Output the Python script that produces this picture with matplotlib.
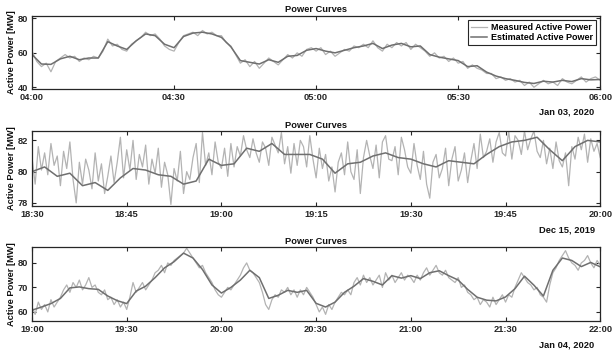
import matplotlib
matplotlib.use("Agg")
import matplotlib.pyplot as plt
import matplotlib.dates as mdates
import numpy as np

plt.rcParams['font.family'] = ['Liberation Sans', 'DejaVu Sans']
plt.rcParams['font.weight'] = 'bold'
plt.rcParams['axes.labelweight'] = 'bold'
plt.rcParams['axes.titleweight'] = 'bold'

TITLE = "Power Curves"
YLABEL = "Active Power [MW]"
LEGEND_LABELS = ["Measured Active Power", "Estimated Active Power"]

# --- Jan 03, 2020, 04:00-06:00 ---
p1_start = "2020-01-03T04:00"
p1_date = "Jan 03, 2020"
p1_meas_step_s = 60
p1_est_step_s = 120
p1_measured = [
    61, 55, 52, 54, 49, 55, 57, 59, 57, 58, 55, 57, 56, 58, 57, 61, 68, 64, 65, 62,
    61, 65, 67, 69, 72, 70, 71, 68, 64, 62, 61, 66, 70, 71, 72, 70, 73, 71, 72, 70,
    70, 66, 64, 59, 54, 56, 52, 55, 51, 54, 57, 55, 53, 56, 59, 57, 60, 58, 62, 63,
    61, 63, 59, 61, 58, 60, 62, 61, 64, 63, 65, 63, 67, 63, 61, 65, 63, 66, 64, 66,
    62, 65, 63, 61, 58, 60, 57, 58, 55, 57, 54, 55, 51, 53, 51, 50, 48, 48, 45, 46,
    44, 45, 43, 44, 41, 43, 40, 42, 44, 42, 43, 41, 45, 43, 42, 44, 46, 43, 45, 46,
    44,
]
p1_estimated = [
    59, 53.5, 53.3, 56.5, 58, 56, 57, 57, 66.5, 64, 62, 67, 71, 70, 65, 63,
    69.5, 71.5, 72, 71, 69, 63.5, 55.5, 54.5, 53.5, 56, 54.5, 58, 58.5, 61.5,
    62.5, 61, 60, 61.5, 63, 64, 65.5, 62.5, 64.5, 65.5, 63.5, 64, 59, 57.5,
    56.5, 55.5, 52, 52.5, 48.8, 46.5, 45, 44, 42.8, 42.2, 43.5, 43, 44, 43.3,
    45, 44.3, 44.5,
]
p1_ylim = (39.0, 81.5)
p1_yticks = [40, 60, 80]
p1_xtick_min = 30

# --- Dec 15, 2019, 18:30-20:00 ---
p2_start = "2019-12-15T18:30"
p2_date = "Dec 15, 2019"
p2_meas_step_s = 30
p2_est_step_s = 120
p2_measured = [
    80.9, 79.2, 81.6, 80.1, 81.2, 79.8, 81.8, 80.4, 81.0, 79.1,
    81.3, 80.2, 81.9, 79.5, 78.0, 80.6, 79.2, 80.8, 80.1, 78.9,
    81.2, 79.4, 80.5, 78.6, 79.7, 81.0, 79.3, 80.6, 82.2, 79.6,
    81.4, 80.1, 82.0, 79.5, 81.1, 80.3, 81.7, 79.2, 80.8, 79.9,
    81.5, 79.0, 80.6, 79.8, 77.9, 80.2, 79.4, 81.3, 78.6, 80.0,
    79.5, 80.9, 81.8, 79.3, 82.5, 80.4, 81.2, 79.8, 81.9, 80.6,
    80.2, 81.5, 79.7, 81.8, 80.3, 81.6, 81.0, 82.3, 81.4, 80.9,
    82.1, 81.2, 80.6, 81.9, 81.5, 80.4, 82.2, 81.7, 81.2, 82.5,
    80.5, 81.6, 79.9, 81.8, 80.4, 82.0, 81.6, 80.3, 82.3, 80.8,
    79.6, 81.5, 80.2, 81.1, 79.4, 80.3, 78.7, 80.6, 81.2, 79.8,
    81.9, 80.0, 79.5, 81.4, 78.6, 80.9, 82.0, 81.0, 80.2, 81.7,
    79.6, 81.9, 82.3, 80.8, 80.7, 81.6, 79.8, 82.2, 81.4, 80.3,
    79.9, 81.8, 80.4, 79.5, 81.3, 79.2, 78.3, 80.6, 81.1, 79.6,
    80.2, 81.5, 79.1, 80.8, 81.6, 79.4, 80.1, 81.2, 79.3, 80.7,
    81.8, 80.2, 82.4, 80.9, 81.3, 82.1, 80.6, 81.9, 82.5, 81.2,
    81.0, 82.6, 80.8, 82.3, 82.0, 81.1, 82.6, 81.4, 82.1, 82.6,
    81.3, 80.9, 82.0, 80.5, 81.5, 80.2, 81.9, 80.7, 80.3, 81.2,
    79.1, 81.6, 80.8, 82.2, 81.4, 82.4, 80.6, 82.1, 81.3, 81.8,
    80.9,
]
p2_estimated = [
    80.0, 80.3, 79.7, 79.9, 79.1, 79.3, 78.8, 79.6, 80.2, 80.1, 79.8, 79.7,
    79.2, 79.4, 80.8, 80.4, 80.5, 81.5, 81.3, 81.8, 81.1, 81.1, 81.1, 80.8,
    79.9, 80.5, 80.6, 81.0, 81.2, 80.9, 80.8, 80.5, 80.3, 80.7, 80.6, 80.5,
    81.1, 81.6, 81.9, 82.0, 82.2, 81.4, 80.7, 81.6, 82.0, 81.9,
]
p2_ylim = (77.8, 82.6)
p2_yticks = [78, 80, 82]
p2_xtick_min = 15

# --- Jan 04, 2020, 19:00-22:00 ---
p3_start = "2020-01-04T19:00"
p3_date = "Jan 04, 2020"
p3_meas_step_s = 60
p3_est_step_s = 180
p3_measured = [
    62, 59, 64, 61, 63, 60, 65, 62, 64, 66, 69, 71, 68, 72, 70, 73, 69, 71, 74, 70,
    71, 68, 67, 69, 65, 66, 63, 65, 62, 64, 61, 66, 72, 68, 70, 72, 69, 71, 73, 76,
    77, 79, 76, 80, 79, 81, 82, 83, 84, 86, 84, 82, 80, 78, 79, 76, 74, 72, 69, 67,
    66, 68, 70, 69, 71, 73, 75, 78, 80, 77, 76, 74, 72, 68, 63, 61, 65, 67, 66, 69,
    68, 70, 67, 69, 66, 69, 67, 70, 68, 66, 63, 60, 62, 59, 63, 61, 64, 66, 68, 67,
    69, 67, 72, 74, 71, 75, 72, 74, 71, 73, 75, 70, 76, 73, 75, 72, 74, 76, 73, 75,
    74, 72, 75, 73, 76, 78, 75, 77, 79, 76, 75, 77, 74, 73, 72, 74, 70, 71, 68, 67,
    65, 66, 63, 65, 64, 62, 66, 63, 65, 67, 64, 67, 66, 70, 73, 76, 74, 72, 71, 69,
    70, 67, 66, 64, 71, 76, 78, 81, 83, 85, 82, 80, 79, 77, 80, 81, 83, 80, 78, 81,
    79,
]
p3_estimated = [
    60.7, 62, 63.4, 65.5, 69.8, 70.2, 69.5, 69.2, 66.5, 64.6, 63.4, 68.5, 70.5,
    74, 78, 80.5, 84, 82, 77.3, 71, 67.7, 70, 73, 77, 74, 65.5, 66.8, 68.8, 68,
    68.8, 63.5, 62, 64, 68, 70.5, 73.6, 72.5, 71, 74.8, 73.8, 74.8, 73.6, 76,
    76.8, 74.8, 73, 69.2, 66, 64.8, 64.5, 66.1, 69.5, 74.6, 70.9, 66.5, 77, 82,
    81, 78.5, 80.2, 78.4,
]
p3_ylim = (56.3, 86.5)
p3_yticks = [60, 70, 80]
p3_xtick_min = 30

MEAS_COLOR = "#b3b3b3"
EST_COLOR = "#6f6f6f"
AX_COLOR = "#262626"
FS = 6.7


def time_axis(start, step_s, n):
    return np.datetime64(start) + np.arange(n) * np.timedelta64(step_s, "s")


panels = [
    (p1_start, p1_date, p1_meas_step_s, p1_measured, p1_est_step_s, p1_estimated,
     p1_ylim, p1_yticks, p1_xtick_min),
    (p2_start, p2_date, p2_meas_step_s, p2_measured, p2_est_step_s, p2_estimated,
     p2_ylim, p2_yticks, p2_xtick_min),
    (p3_start, p3_date, p3_meas_step_s, p3_measured, p3_est_step_s, p3_estimated,
     p3_ylim, p3_yticks, p3_xtick_min),
]

# axes rectangles in figure fraction: left, bottom, width, height
rects = [
    [0.0522, 0.748, 0.927, 0.207],
    [0.0522, 0.4164, 0.927, 0.2125],
    [0.0522, 0.0907, 0.927, 0.2096],
]

fig = plt.figure(figsize=(6.13, 3.53), dpi=100)

for i, (start, date_txt, m_step, meas, e_step, est, ylim, yticks, tick_min) in enumerate(panels):
    ax = fig.add_axes(rects[i])
    t_meas = time_axis(start, m_step, len(meas))
    t_est = time_axis(start, e_step, len(est))
    ax.plot(t_meas, meas, color=MEAS_COLOR, lw=0.9, label=LEGEND_LABELS[0])
    ax.plot(t_est, est, color=EST_COLOR, lw=1.1, label=LEGEND_LABELS[1])

    ax.set_xlim(t_meas[0], t_meas[-1])
    ax.set_ylim(*ylim)
    ax.set_yticks(yticks)
    ax.xaxis.set_major_locator(mdates.MinuteLocator(byminute=range(0, 60, tick_min)))
    ax.xaxis.set_major_formatter(mdates.DateFormatter("%H:%M"))

    ax.tick_params(direction="in", length=3, width=0.8, top=True, right=True,
                   labelsize=FS, pad=3, colors=AX_COLOR)
    for s in ax.spines.values():
        s.set_color(AX_COLOR)
        s.set_linewidth(0.9)

    ax.set_title(TITLE, fontsize=FS, pad=2.5, color="#111111")
    ax.set_ylabel(YLABEL, fontsize=FS, labelpad=1, color="#111111")
    ax.text(0.99, -0.32, date_txt, transform=ax.transAxes, ha="right", va="center",
            fontsize=FS, color="#111111")

    if i == 0:
        leg = ax.legend(loc="upper right", fontsize=6.5, handlelength=1.8,
                        handletextpad=0.4, borderpad=0.3, labelspacing=0.15,
                        fancybox=False, framealpha=1, borderaxespad=0.5)
        leg.get_frame().set_edgecolor(AX_COLOR)
        leg.get_frame().set_linewidth(0.8)

fig.savefig("out.png", dpi=100)
